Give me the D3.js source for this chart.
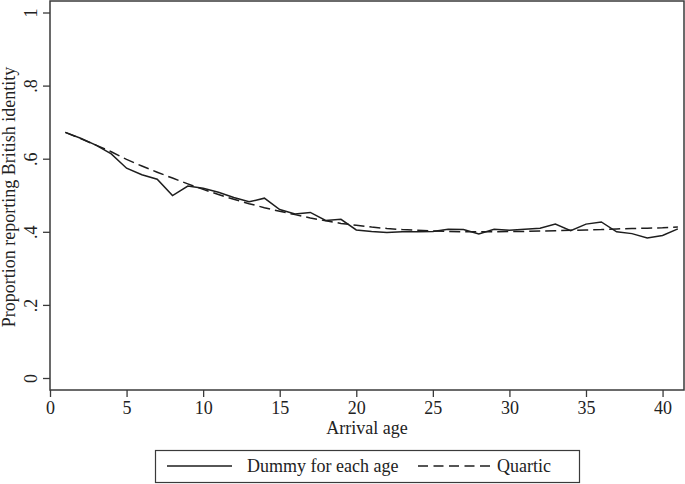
<!DOCTYPE html>
<html>
<head>
<meta charset="utf-8">
<script src="https://cdn.jsdelivr.net/npm/d3@7"></script>
<style>
  body { margin: 0; background: #fff; }
  text { font-family: "Liberation Serif", "Times New Roman", serif; fill: #222; }
</style>
</head>
<body>
<div id="chart"></div>
<script>
// arrival ages 1..41
let ages = d3.range(1, 42);

// proportion reporting British identity, one dummy per age
let dummy = [0.672, 0.656, 0.637, 0.613, 0.574, 0.556, 0.544, 0.499, 0.525, 0.519,
             0.508, 0.494, 0.482, 0.492, 0.461, 0.449, 0.453, 0.431, 0.434, 0.405,
             0.401, 0.398, 0.400, 0.400, 0.401, 0.407, 0.406, 0.394, 0.407, 0.404,
             0.407, 0.410, 0.421, 0.403, 0.421, 0.427, 0.400, 0.395, 0.383, 0.390,
             0.408];

// quartic fit
let quartic = [0.672, 0.655, 0.637, 0.619, 0.598, 0.580, 0.563, 0.547, 0.531, 0.516,
               0.502, 0.489, 0.477, 0.466, 0.456, 0.447, 0.438, 0.430, 0.423, 0.418,
               0.413, 0.409, 0.406, 0.404, 0.402, 0.401, 0.400, 0.400, 0.400, 0.401,
               0.401, 0.402, 0.403, 0.404, 0.405, 0.406, 0.408, 0.409, 0.410, 0.411,
               0.413];

let xTicks = [0, 5, 10, 15, 20, 25, 30, 35, 40],
    yTicks = [0, 0.2, 0.4, 0.6, 0.8, 1],
    yTickLabels = ["0", ".2", ".4", ".6", ".8", "1"];

let width = 685, height = 484,
    plot = {left: 50, right: 684, top: 1, bottom: 390};

let svg = d3.select("#chart").append("svg")
  .attr("width", width)
  .attr("height", height);

let xScale = d3.scaleLinear().domain([0, 41.4]).range([plot.left, plot.right]);
let yScale = d3.scaleLinear().domain([0, 1]).range([378, 12.5]);

// plot frame
svg.append("rect")
  .attr("x", plot.left).attr("y", plot.top)
  .attr("width", plot.right - plot.left)
  .attr("height", plot.bottom - plot.top)
  .attr("fill", "none")
  .attr("stroke", "#3a3a3a")
  .attr("stroke-width", 1.5);

// y axis
let yAxis = svg.append("g")
  .attr("transform", "translate(" + plot.left + ",0)")
  .call(d3.axisLeft(yScale).tickValues(yTicks).tickSize(7)
        .tickFormat((d, i) => yTickLabels[i]));
yAxis.select(".domain").remove();
yAxis.selectAll("line").attr("stroke", "#3a3a3a").attr("stroke-width", 1.3);
yAxis.selectAll("text")
  .attr("font-size", 18)
  .attr("font-family", "Liberation Serif")
  .attr("text-anchor", "middle")
  .attr("x", 0).attr("y", -13).attr("dy", 0)
  .attr("transform", "rotate(-90)");

// x axis
let xAxis = svg.append("g")
  .attr("transform", "translate(0," + plot.bottom + ")")
  .call(d3.axisBottom(xScale).tickValues(xTicks).tickSize(7).tickPadding(4));
xAxis.select(".domain").remove();
xAxis.selectAll("line").attr("stroke", "#3a3a3a").attr("stroke-width", 1.3);
xAxis.selectAll("text")
  .attr("font-size", 18)
  .attr("font-family", "Liberation Serif");

// axis titles
svg.append("text")
  .attr("transform", "translate(15,197) rotate(-90)")
  .attr("text-anchor", "middle")
  .attr("font-size", 18)
  .text("Proportion reporting British identity");

svg.append("text")
  .attr("x", 367).attr("y", 434)
  .attr("text-anchor", "middle")
  .attr("font-size", 18)
  .text("Arrival age");

// lines
let line = d3.line()
  .x((d, i) => xScale(ages[i]))
  .y(d => yScale(d));

svg.append("path")
  .datum(quartic)
  .attr("d", line)
  .attr("fill", "none")
  .attr("stroke", "#1e1e1e")
  .attr("stroke-width", 1.5)
  .attr("stroke-dasharray", "11,5");

svg.append("path")
  .datum(dummy)
  .attr("d", line)
  .attr("fill", "none")
  .attr("stroke", "#1e1e1e")
  .attr("stroke-width", 1.5)
  .attr("stroke-linejoin", "miter");

// legend
let legend = svg.append("g");
legend.append("rect")
  .attr("x", 155.5).attr("y", 450.5)
  .attr("width", 424).attr("height", 32)
  .attr("fill", "none")
  .attr("stroke", "#3a3a3a")
  .attr("stroke-width", 1.2);
legend.append("line")
  .attr("x1", 167).attr("x2", 232).attr("y1", 466).attr("y2", 466)
  .attr("stroke", "#1e1e1e").attr("stroke-width", 1.5);
legend.append("text")
  .attr("x", 247).attr("y", 472)
  .attr("font-size", 18)
  .text("Dummy for each age");
legend.append("line")
  .attr("x1", 418).attr("x2", 490).attr("y1", 466).attr("y2", 466)
  .attr("stroke", "#1e1e1e").attr("stroke-width", 1.5)
  .attr("stroke-dasharray", "10,5.5");
legend.append("text")
  .attr("x", 497).attr("y", 472)
  .attr("font-size", 18)
  .text("Quartic");
</script>
</body>
</html>
